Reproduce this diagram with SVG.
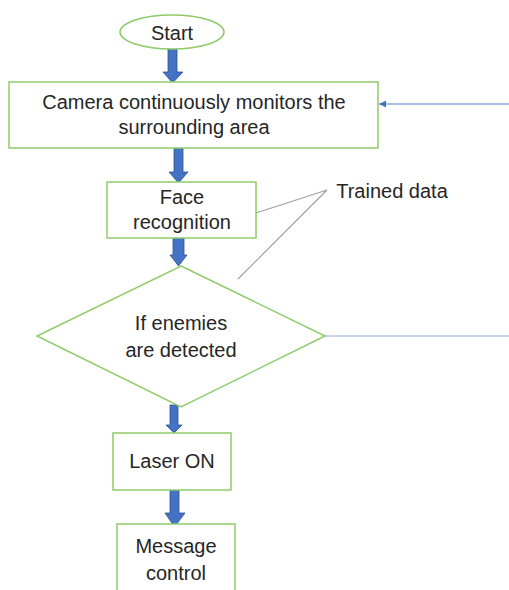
<svg xmlns="http://www.w3.org/2000/svg" width="509" height="590" viewBox="0 0 509 590">
<defs>
<style>
.node{fill:#fff;stroke:#8FCB6B;stroke-width:1.5}
.t{font-family:"Liberation Sans",Arial,sans-serif;font-size:20px;fill:#262626;text-anchor:middle}
.blk{fill:#4472C4;stroke:#2F528F;stroke-width:0.8}
.gray{stroke:#A0A0A0;stroke-width:1.2;fill:none}
</style>
<marker id="ah" viewBox="0 0 10 10" refX="10" refY="5" markerUnits="userSpaceOnUse" markerWidth="8" markerHeight="7" orient="auto">
<path d="M0,0 L10,5 L0,10 z" fill="#4472C4"/>
</marker>
</defs>
<rect width="509" height="590" fill="#fff"/>
<g id="connectors">
<path class="blk" d="M168,45 H177 V72 H183 L172.5,83 L163,72 H168 Z"/>
<path class="blk" d="M174,147 H183 V172 H188 L178.5,183 L169,172 H174 Z"/>
<path class="blk" d="M173,236 H184 V255 H187 L178.5,266 L170,255 H173 Z"/>
<path class="blk" d="M170,405 H178 V425 H182 L174,433 L166,425 H170 Z"/>
<path class="blk" d="M170,490 H179 V513 H185 L174.5,527 L165,513 H170 Z"/>
<line x1="509" y1="104" x2="379" y2="104" stroke="#8FAADC" stroke-width="1.5" marker-end="url(#ah)"/>
<line x1="325" y1="336" x2="509" y2="336" stroke="#B4C7E7" stroke-width="1.5"/>
<polyline class="gray" points="256,213 327,190 238,279"/>
</g>
<g id="start">
<ellipse class="node" cx="172" cy="32" rx="52" ry="17"/>
<text class="t" x="172" y="40">Start</text>
</g>
<g id="camera">
<rect class="node" x="9" y="82" width="369" height="66"/>
<text class="t" x="194" y="109">Camera continuously monitors the</text>
<text class="t" x="194" y="134">surrounding area</text>
</g>
<g id="face">
<rect class="node" x="107" y="182" width="149" height="56"/>
<text class="t" x="182" y="204">Face</text>
<text class="t" x="182" y="229">recognition</text>
</g>
<g id="trained">
<text class="t" x="392" y="198">Trained data</text>
</g>
<g id="decision">
<polygon class="node" points="181,266 325,336 181,407 37,336"/>
<text class="t" x="181" y="330">If enemies</text>
<text class="t" x="181" y="357">are detected</text>
</g>
<g id="laser">
<rect class="node" x="113" y="433" width="118" height="57"/>
<text class="t" x="172" y="468">Laser ON</text>
</g>
<g id="message">
<rect class="node" x="117" y="524" width="118" height="80"/>
<text class="t" x="176" y="553">Message</text>
<text class="t" x="176" y="580">control</text>
</g>
</svg>
